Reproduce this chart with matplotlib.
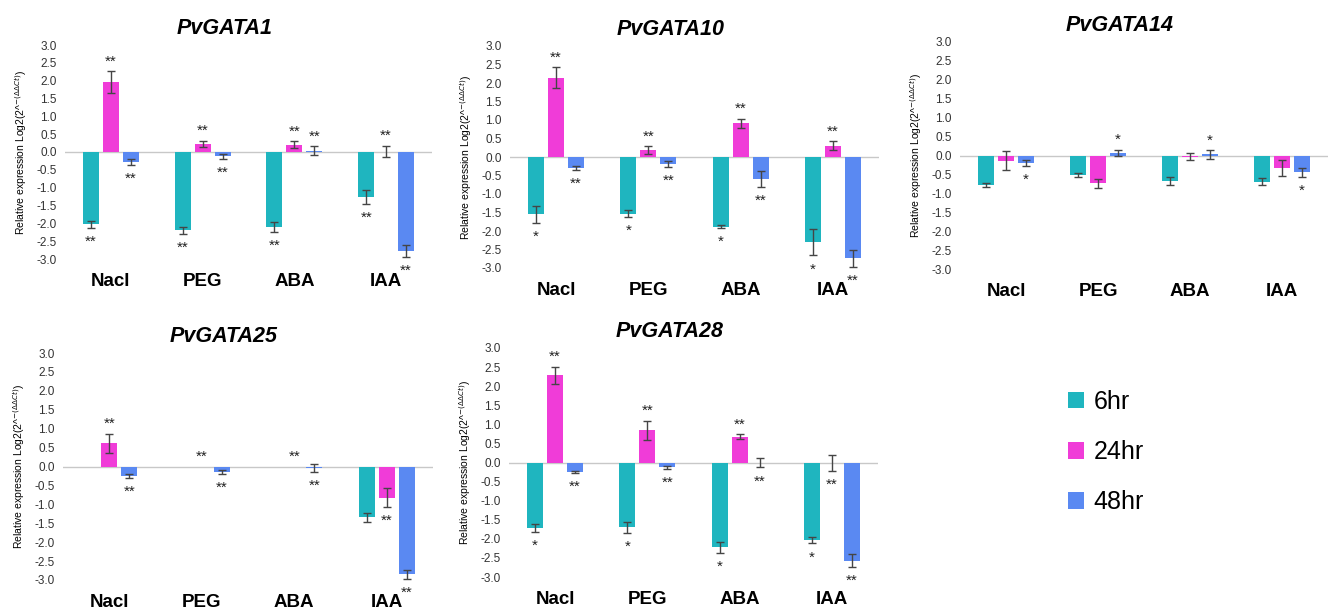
import numpy as np
import matplotlib
matplotlib.use('Agg')
import matplotlib.pyplot as plt
from matplotlib.patches import Patch

plt.rcParams['font.family'] = ['Liberation Sans', 'DejaVu Sans']
plt.rcParams['axes.unicode_minus'] = False

# Data: rows = 6hr, 24hr, 48hr ; columns = Nacl, PEG, ABA, IAA
conditions = ['Nacl', 'PEG', 'ABA', 'IAA']
timepoints = ['6hr', '24hr', '48hr']
genes = ['PvGATA1', 'PvGATA10', 'PvGATA14', 'PvGATA25', 'PvGATA28']

gata1_mean = [[-2.03, -2.20, -2.10, -1.26],
              [1.96, 0.23, 0.20, 0.01],
              [-0.29, -0.12, 0.04, -2.78]]
gata1_err = [[0.09, 0.10, 0.14, 0.19],
             [0.30, 0.08, 0.10, 0.16],
             [0.08, 0.07, 0.12, 0.17]]
gata1_sig = [['**', '**', '**', '**'],
             ['**', '**', '**', '**'],
             ['**', '**', '**', '**']]

gata10_mean = [[-1.55, -1.53, -1.88, -2.30],
               [2.14, 0.19, 0.91, 0.30],
               [-0.30, -0.19, -0.59, -2.74]]
gata10_err = [[0.23, 0.09, 0.03, 0.36],
              [0.28, 0.10, 0.13, 0.12],
              [0.05, 0.08, 0.21, 0.24]]
gata10_sig = [['*', '*', '*', '*'],
              ['**', '**', '**', '**'],
              ['**', '**', '**', '**']]

gata14_mean = [[-0.78, -0.51, -0.68, -0.69],
               [-0.14, -0.73, -0.03, -0.34],
               [-0.20, 0.07, 0.03, -0.44]]
gata14_err = [[0.06, 0.05, 0.11, 0.10],
              [0.25, 0.12, 0.10, 0.21],
              [0.07, 0.08, 0.11, 0.12]]
gata14_sig = [['', '', '', ''],
              ['', '', '', ''],
              ['*', '*', '*', '*']]

gata25_mean = [[0.0, 0.0, 0.0, -1.34],
               [0.61, 0.0, 0.0, -0.82],
               [-0.25, -0.14, -0.04, -2.85]]
gata25_err = [[0.0, 0.0, 0.0, 0.12],
              [0.26, 0.0, 0.0, 0.26],
              [0.05, 0.05, 0.11, 0.12]]
gata25_sig = [['', '', '', ''],
              ['**', '**', '**', '**'],
              ['**', '**', '**', '**']]

gata28_mean = [[-1.72, -1.70, -2.22, -2.03],
               [2.28, 0.84, 0.68, -0.01],
               [-0.25, -0.12, -0.01, -2.57]]
gata28_err = [[0.11, 0.15, 0.14, 0.09],
              [0.23, 0.25, 0.06, 0.20],
              [0.03, 0.04, 0.12, 0.17]]
gata28_sig = [['*', '*', '*', '*'],
              ['**', '**', '**', '**'],
              ['**', '**', '**', '**']]

all_mean = [gata1_mean, gata10_mean, gata14_mean, gata25_mean, gata28_mean]
all_err = [gata1_err, gata10_err, gata14_err, gata25_err, gata28_err]
all_sig = [gata1_sig, gata10_sig, gata14_sig, gata25_sig, gata28_sig]

colors = ['#1FB5BF', '#F03CD8', '#5A89F2']

# panel boxes in pixels (left, top, right, bottom)
W, H = 1328, 609
boxes = [(65, 45, 432, 259), (510, 46, 879, 268), (960, 42, 1328, 269),
         (63, 353, 433, 580), (509, 348, 878, 577)]

fig = plt.figure(figsize=(W / 100, H / 100), dpi=100)

x = np.arange(len(conditions))
offsets = [-0.217, 0.0, 0.217]
width = 0.174

for gene, box, mean, err, sig in zip(genes, boxes, all_mean, all_err, all_sig):
    l, t, r, b = box
    ax = fig.add_axes([l / W, 1 - b / H, (r - l) / W, (b - t) / H])
    ax.axhline(0, color='#C8C8C8', lw=1, zorder=1)
    for k in range(3):
        xs = x + offsets[k]
        vals = np.array(mean[k])
        errs = np.array(err[k])
        ax.bar(xs, vals, width, color=colors[k], linewidth=0, zorder=2)
        m = errs > 0
        ax.errorbar(xs[m], vals[m], yerr=errs[m], fmt='none', ecolor='#454545',
                    elinewidth=1, capsize=3, capthick=1, zorder=3, clip_on=False)
        # significance marks just beyond the error bar, on the side the bar points to
        for xi, v, e, s in zip(xs, vals, errs, sig[k]):
            if not s:
                continue
            if v >= 0:
                ax.annotate(s, (xi, v + e), xytext=(0, 7), textcoords='offset points',
                            ha='center', va='center', fontsize=11, color='#222222')
            else:
                ax.annotate(s, (xi, v - e), xytext=(0, -10), textcoords='offset points',
                            ha='center', va='center', fontsize=11, color='#222222')
    ax.set_xlim(-0.5, 3.5)
    ax.set_ylim(-3, 3)
    ax.set_yticks(np.arange(-3, 3.01, 0.5))
    ax.set_yticklabels([f'{v:.1f}' for v in np.arange(-3, 3.01, 0.5)], fontsize=8.5, color='#333333')
    ax.set_xticks(x)
    ax.set_xticklabels(conditions, fontsize=13.5, fontweight='bold')
    ax.tick_params(axis='both', length=0)
    ax.tick_params(axis='x', pad=10)
    ax.tick_params(axis='y', pad=6)
    for sp in ax.spines.values():
        sp.set_visible(False)
    ax.set_ylabel(r'Relative expression Log2(2^$^{-(\Delta\Delta Ct)}$)', fontsize=7.5, labelpad=5)
    ax.set_title(gene, fontsize=15.5, fontweight='bold', fontstyle='italic', x=0.435, pad=8)

handles = [Patch(facecolor=c, edgecolor='none') for c in colors]
fig.legend(handles, timepoints, loc='center left', bbox_to_anchor=(1045 / W, 1 - 452 / H),
           frameon=False, fontsize=18, handlelength=0.65, handleheight=0.65,
           handletextpad=0.4, labelspacing=1.05)

fig.savefig('out.png', dpi=100)
